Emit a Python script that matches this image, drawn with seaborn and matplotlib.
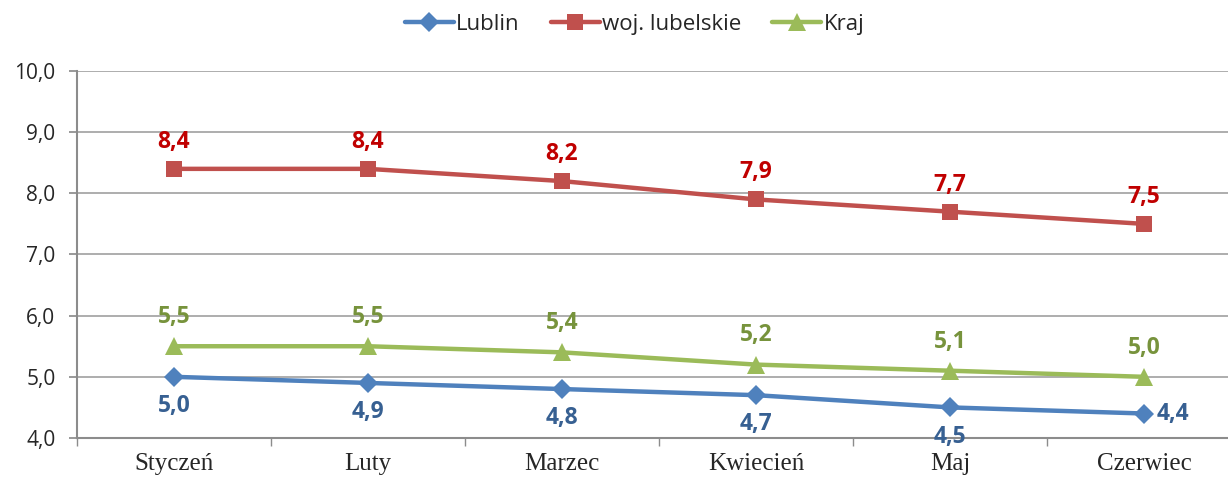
import matplotlib
matplotlib.use("Agg")
import matplotlib.pyplot as plt
import seaborn as sns
import pandas as pd

# Data
months = ["Styczeń", "Luty", "Marzec", "Kwiecień", "Maj", "Czerwiec"]
lublin = [5.0, 4.9, 4.8, 4.7, 4.5, 4.4]
lubelskie = [8.4, 8.4, 8.2, 7.9, 7.7, 7.5]
kraj = [5.5, 5.5, 5.4, 5.2, 5.1, 5.0]
series_names = ["Lublin", "woj. lubelskie", "Kraj"]

sns.set_theme(style="white")
plt.rcParams["font.family"] = ["Open Sans", "DejaVu Sans"]

fig = plt.figure(figsize=(12.28, 4.78), dpi=100)
ax = fig.add_axes([0.0627, 0.0837, 0.948, 0.7678])

line_col = {"Lublin": "#4F81BD", "woj. lubelskie": "#C0504D", "Kraj": "#9BBB59"}
lab_col = {"Lublin": "#376092", "woj. lubelskie": "#C00000", "Kraj": "#77933C"}
markers = {"Lublin": "D", "woj. lubelskie": "s", "Kraj": "^"}
msize = {"Lublin": 10, "woj. lubelskie": 11.5, "Kraj": 12.5}

values = {"Lublin": lublin, "woj. lubelskie": lubelskie, "Kraj": kraj}

for name in series_names:
    df = pd.DataFrame({"month": months, "val": values[name]})
    sns.lineplot(data=df, x="month", y="val", ax=ax, color=line_col[name],
                 marker=markers[name], markersize=msize[name], linewidth=3.2,
                 markeredgewidth=0, label=name, sort=False)

# data labels
for name in series_names:
    for i, v in enumerate(values[name]):
        txt = f"{v:.1f}".replace(".", ",")
        if name == "Lublin":
            if i == len(months) - 1:
                off, ha = (9, 0), "left"
            else:
                off, ha = (0, -21), "center"
        elif name == "Kraj":
            off, ha = (0, 21), "center"
        else:
            off, ha = (0, 19.5), "center"
        ax.annotate(txt, (i, v), xytext=off, textcoords="offset points",
                    ha=ha, va="center", color=lab_col[name],
                    fontsize=16.5, fontweight="bold")

ax.set_xlim(-0.5, len(months) - 0.5)
ax.set_ylim(4, 10)
ax.set_yticks([4, 5, 6, 7, 8, 9, 10])
ax.set_yticklabels([f"{t:.1f}".replace(".", ",") for t in [4, 5, 6, 7, 8, 9, 10]],
                   fontsize=15)
ax.set_xticks(range(len(months)))
ax.set_xticklabels(months, fontsize=18, family="Liberation Serif")
ax.set_xticks([i + 0.5 for i in range(-1, len(months))], minor=True)
ax.tick_params(axis="x", which="major", length=0, pad=11)
ax.tick_params(axis="x", which="minor", length=5.5, color="#8c8c8c", direction="out", bottom=True)
ax.tick_params(axis="y", length=5.5, color="#8c8c8c", direction="out", left=True, pad=10)
ax.set_xlabel("")
ax.set_ylabel("")

ax.yaxis.grid(True, color="#a0a0a0", linewidth=1.2)
ax.set_axisbelow(True)
for s in ["top", "right"]:
    ax.spines[s].set_visible(False)
for s in ["left", "bottom"]:
    ax.spines[s].set_color("#8c8c8c")
    ax.spines[s].set_linewidth(1.5)

ax.legend(loc="center", bbox_to_anchor=(0.479, 1.128), ncol=3, frameon=False,
          fontsize=16, handlelength=2.2, columnspacing=1.4, handletextpad=0.1)

fig.savefig("out.png", dpi=100)
